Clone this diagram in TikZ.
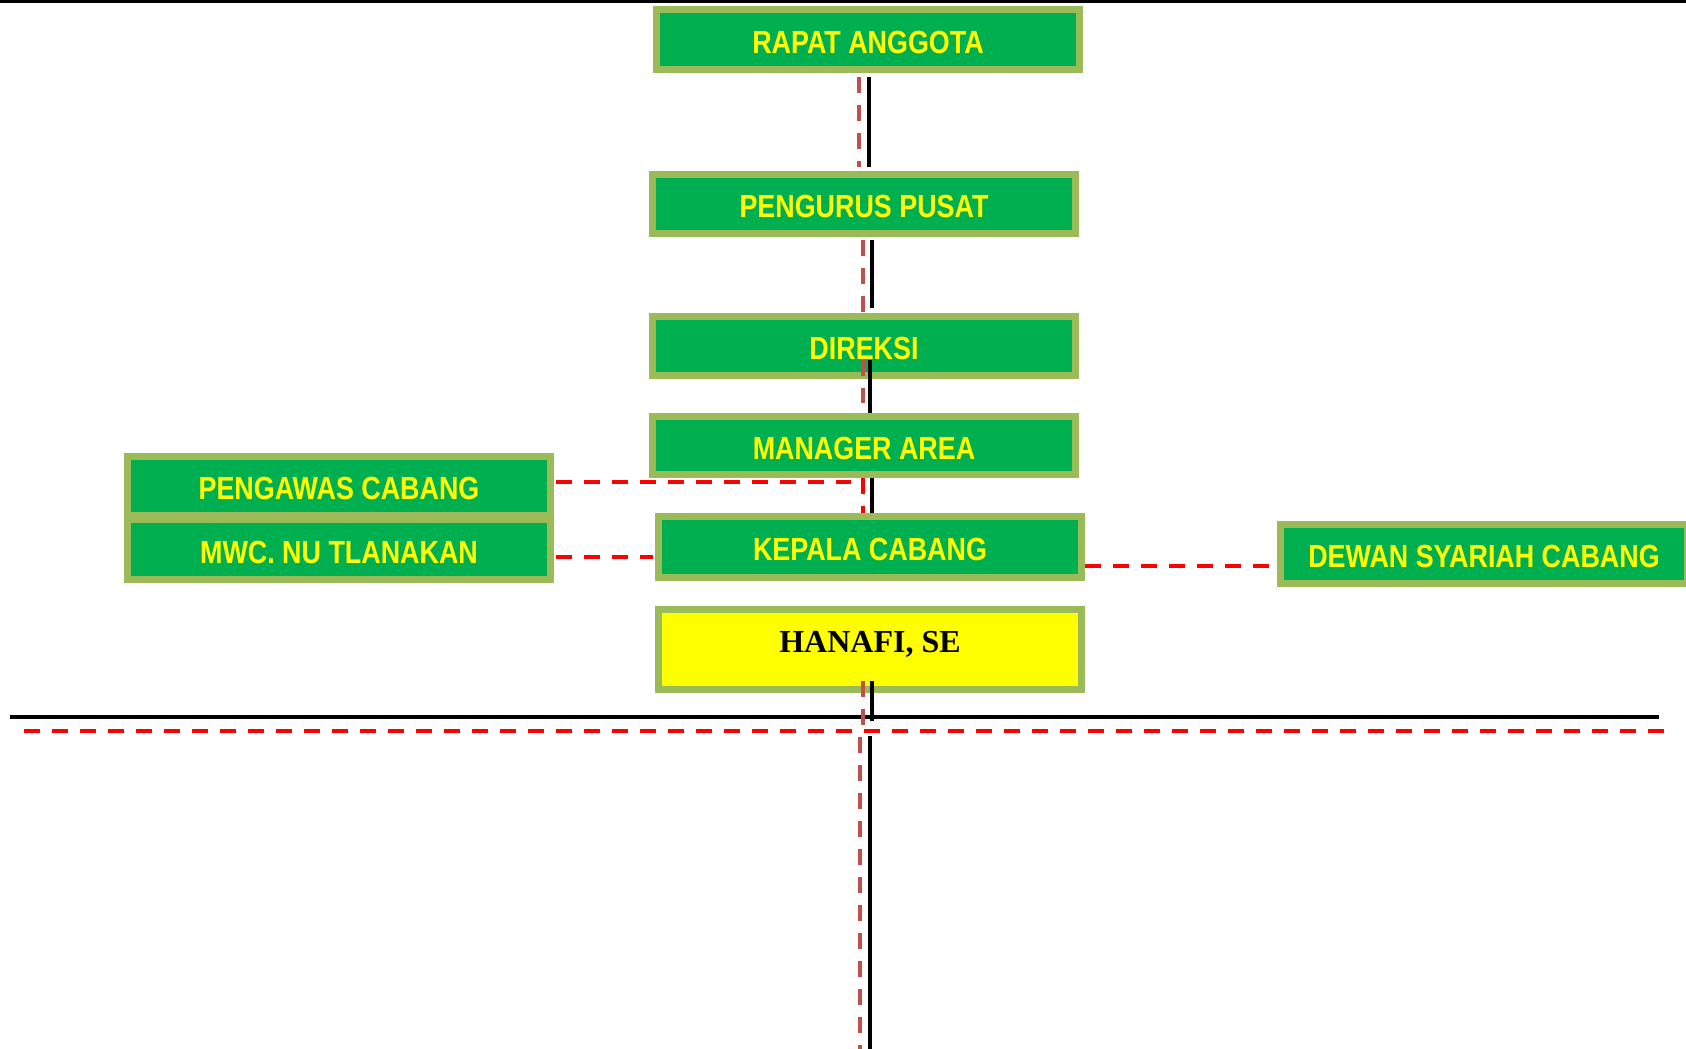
\documentclass[tikz,border=0pt]{standalone}
\usepackage{fontspec}
\usetikzlibrary{calc}
\newfontfamily\narrowfont[FakeStretch=0.84]{Liberation Sans}
\newfontfamily\timesfont{Liberation Serif}
\definecolor{boxgreen}{HTML}{00B050}
\definecolor{boxedge}{HTML}{9BBB59}
\definecolor{txtyellow}{HTML}{FFFF00}
\definecolor{dashred}{HTML}{FF0000}
\definecolor{linkred}{HTML}{C0504D}
\tikzset{
  orgbox/.style={draw=boxedge, line width=7pt, fill=boxgreen, minimum width=423pt,
    minimum height=59pt, inner sep=0pt, text=txtyellow, text height=27pt, text depth=0pt,
    font=\narrowfont\bfseries\fontsize{32}{38}\selectfont},
  namebox/.style={orgbox, fill=txtyellow, text=black, text height=13pt, text depth=7pt,
    font=\timesfont\bfseries\fontsize{32}{38}\selectfont},
  blkline/.style={draw=black, line width=4pt},
  redline/.style={draw=dashred, line width=4pt, dash pattern=on 16pt off 12pt},
  linkline/.style={draw=linkred, line width=4pt, dash pattern=on 16pt off 12pt},
}
\begin{document}
\begin{tikzpicture}[x=1pt,y=-1pt]
\useasboundingbox (0,0) rectangle (1686,1049);
% top rule
\coordinate (tl) at (0,1.5);
\coordinate (tr) at (1686,1.5);
\draw[draw=black, line width=3pt] (tl) -- (tr);

\node[orgbox, minimum height=60pt] (rapat) at (868,39.5) {RAPAT ANGGOTA};
\node[orgbox] (pengurus) at (864,204) {PENGURUS PUSAT};
\node[orgbox] (direksi) at (864,346) {DIREKSI};
\node[orgbox, minimum height=58pt] (manager) at (864,445.5) {MANAGER AREA};
\node[orgbox, minimum height=61pt] (kepala) at (870,547) {KEPALA CABANG};
\node[namebox, minimum height=80pt] (hanafi) at (870,649.5) {HANAFI, SE};
\node[orgbox] (pengawas) at (339,486) {PENGAWAS CABANG};
\node[orgbox, minimum height=60pt] (mwc) at (339,549.5) {MWC. NU TLANAKAN};
\node[orgbox, minimum width=407pt] (dewan) at (1484,554) {DEWAN SYARIAH CABANG};

% vertical connectors
\draw[blkline] ([shift={(1,4)}]rapat.south) -- ([shift={(5,-4)}]pengurus.north);
\draw[linkline] ([shift={(-9,4)}]rapat.south) -- ([shift={(-5,-4)}]pengurus.north);

\draw[blkline] ([shift={(8,3)}]pengurus.south) -- ([shift={(8,-5)}]direksi.north);
\draw[linkline] ([shift={(-1,3)}]pengurus.south) -- ([shift={(-1,-1)}]direksi.north);

\draw[blkline] ([shift={(6,-19)}]direksi.south) -- ([shift={(6,0)}]manager.north);
\draw[linkline] ([shift={(-1,-19)}]direksi.south) -- ([shift={(-1,-10)}]manager.north);

\draw[blkline] ([shift={(8,0)}]manager.south) -- ([shift={(2,0)}]kepala.north);
\draw[redline] ([shift={(-1,0)}]manager.south) -- ([shift={(-7,0)}]kepala.north);

% side connectors
\coordinate (pw) at ([shift={(2,-4)}]pengawas.east);
\draw[redline] (pw) -- ($(pw -| manager.south)+(-13,0)$);
\draw[redline] ([shift={(2,7.5)}]mwc.east) -- ([shift={(-2,10)}]kepala.west);
\draw[redline] ([shift={(0,19)}]kepala.east) -- ([shift={(-7,12)}]dewan.west);

% horizontal rules
\coordinate (hl) at (10,717);
\coordinate (hr) at (1659,717);
\coordinate (rl) at (24,731);
\coordinate (rr) at (1664,731);
\draw[blkline] (hl) -- (hr);
\draw[redline] (rl) -- (rr);

% lines below HANAFI
\coordinate (blkbot) at (870,1049);
\coordinate (redbot) at (860,1049);
\draw[blkline] ([shift={(2,-12)}]hanafi.south) -- ([shift={(2,28)}]hanafi.south);
\draw[linkline] ([shift={(-7,-12)}]hanafi.south) -- ([shift={(-7,44)}]hanafi.south);
\draw[blkline] ([shift={(0,43)}]hanafi.south) -- (blkbot);
\draw[linkline] ([shift={(-10,44)}]hanafi.south) -- (redbot);
\end{tikzpicture}
\end{document}
